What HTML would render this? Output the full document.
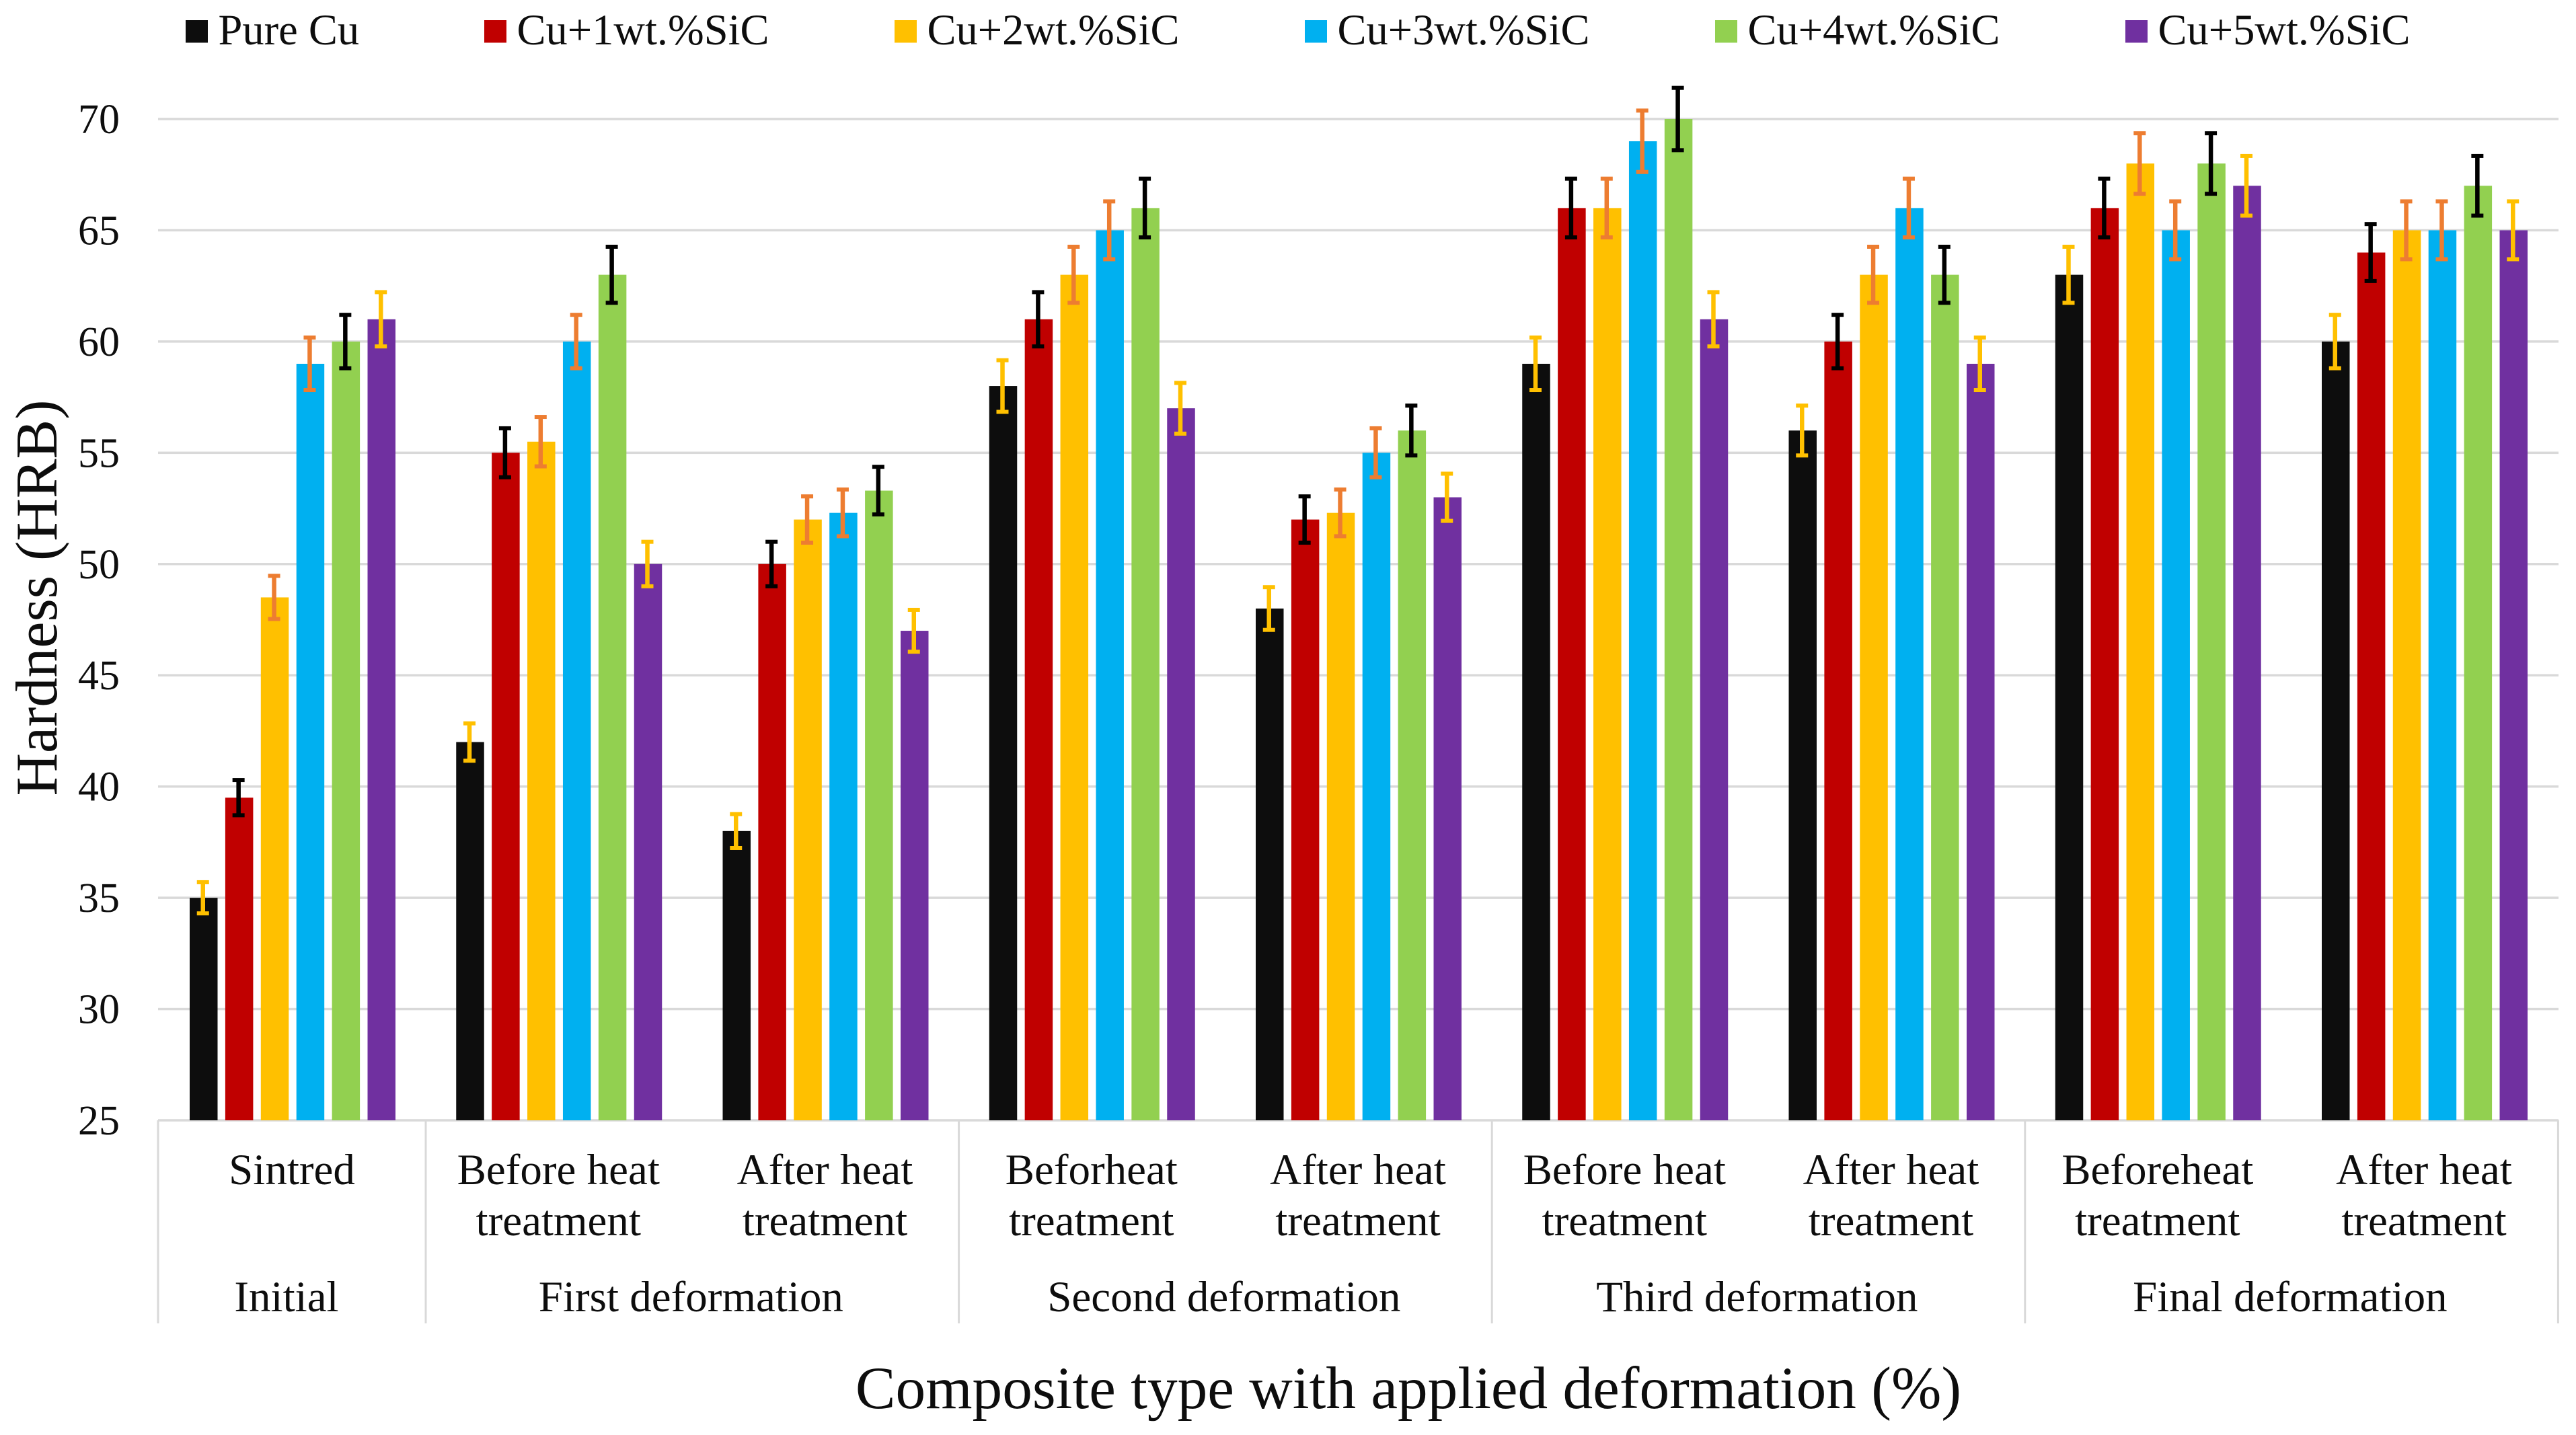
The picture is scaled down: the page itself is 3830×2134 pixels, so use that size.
<!DOCTYPE html>
<html lang="en">
<head>
<meta charset="utf-8">
<title>Hardness (HRB) by composite type with applied deformation</title>
<style>
html,body{margin:0;padding:0;background:#fff;width:3830px;height:2134px;overflow:hidden}
svg{display:block}
text{font-family:"Liberation Serif",serif;fill:#0d0d0d}
</style>
</head>
<body>
<svg id="chart" xmlns="http://www.w3.org/2000/svg" width="3830" height="2134" viewBox="0 0 3830 2134"></svg>
<script>
const subCategories = [["Sintred"],["Before heat","treatment"],["After heat","treatment"],["Beforheat","treatment"],["After heat","treatment"],["Before heat","treatment"],["After heat","treatment"],["Beforeheat","treatment"],["After heat","treatment"]];
const groupNames = ["Initial","First deformation","Second deformation","Third deformation","Final deformation"];
const groupCounts = [1,2,2,2,2];
const yTicks = [25,30,35,40,45,50,55,60,65,70];
const seriesNames = ["Pure Cu","Cu+1wt.%SiC","Cu+2wt.%SiC","Cu+3wt.%SiC","Cu+4wt.%SiC","Cu+5wt.%SiC"];
const pureCu = [35,42,38,58,48,59,56,63,60];
const cu1SiC = [39.5,55,50,61,52,66,60,66,64];
const cu2SiC = [48.5,55.5,52,63,52.3,66,63,68,65];
const cu3SiC = [59,60,52.3,65,55,69,66,65,65];
const cu4SiC = [60,63,53.3,66,56,70,63,68,67];
const cu5SiC = [61,50,47,57,53,61,59,67,65];
const pureCuErr = [0.7,0.84,0.76,1.16,0.96,1.18,1.12,1.26,1.2];
const cu1SiCErr = [0.79,1.1,1,1.22,1.04,1.32,1.2,1.32,1.28];
const cu2SiCErr = [0.97,1.11,1.04,1.26,1.05,1.32,1.26,1.36,1.3];
const cu3SiCErr = [1.18,1.2,1.05,1.3,1.1,1.38,1.32,1.3,1.3];
const cu4SiCErr = [1.2,1.26,1.07,1.32,1.12,1.4,1.26,1.36,1.34];
const cu5SiCErr = [1.22,1,0.94,1.14,1.06,1.22,1.18,1.34,1.3];
const seriesValues = [pureCu,cu1SiC,cu2SiC,cu3SiC,cu4SiC,cu5SiC];
const seriesErrors = [pureCuErr,cu1SiCErr,cu2SiCErr,cu3SiCErr,cu4SiCErr,cu5SiCErr];
const seriesColors = ["#0d0d0d","#c00000","#ffc000","#00b0f0","#92d050","#7030a0"];
const errorColors = ["#ffc000","#000000","#ed7d31","#ed7d31","#000000","#ffc000"];

const NS = "http://www.w3.org/2000/svg";
const svg = document.getElementById("chart");
const plotLeft = 235, plotRight = 3804, plotTop = 177, plotBottom = 1666;
const yMin = 25, yMax = 70;
const barW = 41.5, barPitch = 52.9;
const firstBarX = 282, catStep = 396.25, firstCatCenter = 434;

function yScale(v){ return plotBottom - (v - yMin) / (yMax - yMin) * (plotBottom - plotTop); }
function catEdge(i){ return i === 0 ? plotLeft : 633 + (i - 1) * 396.3; }
function catCenter(c){ return firstCatCenter + c * catStep; }
function barX(cat, s){ return firstBarX + cat * catStep + s * barPitch; }

function rect(parent, x, y, w, h, fill){
  const el = document.createElementNS(NS, "rect");
  el.setAttribute("x", x);
  el.setAttribute("y", y);
  el.setAttribute("width", w);
  el.setAttribute("height", h);
  el.setAttribute("fill", fill);
  parent.appendChild(el);
  return el;
}
function label(parent, x, y, size, anchor, str){
  const el = document.createElementNS(NS, "text");
  el.setAttribute("x", x);
  el.setAttribute("y", y);
  el.setAttribute("font-size", size);
  el.setAttribute("text-anchor", anchor);
  el.textContent = str;
  parent.appendChild(el);
  return el;
}
function group(parent){
  const el = document.createElementNS(NS, "g");
  parent.appendChild(el);
  return el;
}

// gridlines and y tick labels
yTicks.forEach(function(t){
  const y = yScale(t);
  const line = rect(svg, plotLeft, y - 1.75, plotRight - plotLeft, 3.5, "#d9d9d9");
  
  
  const tick = label(svg, 178, y + 21, 62, "end", String(t));
  
  
});

// bars
seriesValues.forEach(function(values, s){
  const g = group(svg);
  
  
  values.forEach(function(v, c){
    const y = yScale(v);
    const bar = rect(g, barX(c, s), y, barW, plotBottom - y, seriesColors[s]);
    
    
  });
});

// error bars
seriesValues.forEach(function(values, s){
  const g = group(svg);
  
  
  values.forEach(function(v, c){
    const cx = barX(c, s) + barW / 2 - 1;
    const top = yScale(v + seriesErrors[s][c]);
    const bottom = yScale(v - seriesErrors[s][c]);
    const eb = group(g);
    
    
    rect(eb, cx - 3.25, top, 6.5, bottom - top, errorColors[s]);
    rect(eb, cx - 9, top - 3, 18, 6, errorColors[s]);
    rect(eb, cx - 9, bottom - 3, 18, 6, errorColors[s]);
  });
});

// sub-category labels
subCategories.forEach(function(lines, c){
  const cx = catCenter(c);
  lines.forEach(function(txt, i){
    const el = label(svg, cx, 1761 + i * 76, 65, "middle", txt);
    
    
  });
});

// group dividers and group labels
let cursor = 0;
const first = rect(svg, plotLeft - 1.5, plotBottom, 3, 302, "#d9d9d9");


groupNames.forEach(function(name, g){
  const startCat = cursor;
  cursor += groupCounts[g];
  const div = rect(svg, catEdge(cursor) - 1.5, plotBottom, 3, 302, "#d9d9d9");
  
  
  const center = (catCenter(startCat) + catCenter(cursor - 1)) / 2;
  const el = label(svg, center - (g === 0 ? 8 : 1), 1950, 65, "middle", name);
  
  
});

// legend
seriesNames.forEach(function(name, s){
  const g = group(svg);
  
  
  const lx = s === 0 ? 276 : 720 + (s - 1) * 610;
  rect(g, lx, 30, 33, 33.5, seriesColors[s]);
  label(g, lx + 48.5, 66, 64.5, "start", name);
});

// axis titles
const xTitle = label(svg, 2094, 2094, 89.3, "middle", "Composite type with applied deformation (%)");


const yTitle = label(svg, 0, 0, 88, "middle", "Hardness (HRB)");
yTitle.setAttribute("transform", "translate(84 889) rotate(-90)");


</script>
</body>
</html>
